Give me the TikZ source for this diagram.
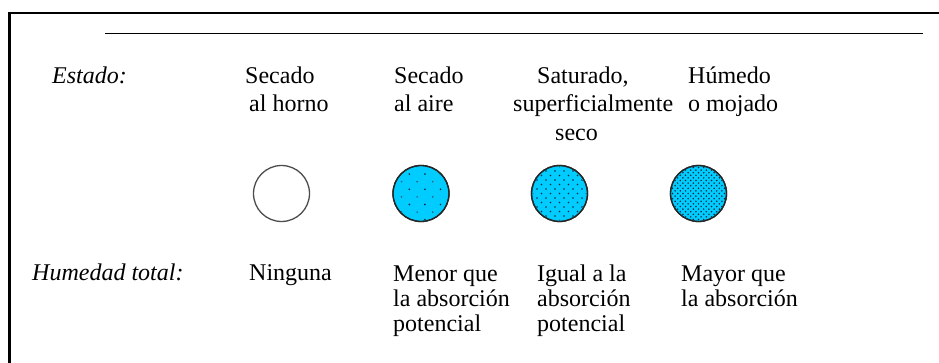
\documentclass[tikz,border=0pt]{standalone}
\usepackage{fontspec}
\setmainfont{Liberation Serif}
\usetikzlibrary{calc}
\definecolor{cyanfill}{RGB}{0,204,255}
\definecolor{dotdark}{RGB}{10,40,60}
\definecolor{dotgray}{RGB}{50,100,125}
\begin{document}
\begin{tikzpicture}[x=1pt,y=-1pt,
  lbl/.style={anchor=base west, inner sep=0pt, font=\fontsize{24}{28}\selectfont},
  lbli/.style={lbl, font=\fontsize{24}{28}\itshape},
  disc/.style={circle, inner sep=0pt, minimum size=56pt, line width=1.3pt},
  wetdisc/.style={disc, fill=cyanfill, draw=black!85},
  drydisc/.style={disc, draw=black!70}]
\useasboundingbox (0,0) rectangle (939,363);
\clip (0,0) rectangle (939,363);
% frame and rule
\coordinate (fb) at (9.5,380);
\coordinate (fc) at (9.5,13);
\coordinate (fr) at (960,13);
\draw[line width=2.7pt] (fb) -- (fc) -- (fr);
\coordinate (ra) at (105,33.5);
\coordinate (rb) at (923,33.5);
\draw[line width=1.8pt] (ra) -- (rb);
% Estado row
\node[lbli] (est) at (52,83.5) {Estado:};
\node[lbl] (c1a) at (245,83.5) {Secado};
\node[lbl] (c1b) at (249,112) {al horno};
\node[lbl] (c2a) at (394,83.5) {Secado};
\node[lbl] (c2b) at (394,112) {al aire};
\node[lbl] (c3a) at (537,83.5) {Saturado,};
\node[lbl] (c3b) at (513,112) {superficialmente};
\node[lbl] (c3c) at (555,140.5) {seco};
\node[lbl] (c4a) at (688,83.5) {Húmedo};
\node[lbl] (c4b) at (688,112) {o mojado};
% discs
\node[drydisc] (d1) at (281.5,193.5) {};
\node[wetdisc] (d2) at (421,193.5) {};
\node[wetdisc] (d3) at (559.5,193.5) {};
\node[wetdisc] (d4) at (698.5,193.5) {};
% dots disc 2
\begin{scope}
\clip (d2.center) circle (27);
\foreach \j in {-4,...,4}{
  \pgfmathsetmacro{\sh}{mod(abs(\j),2)*7.8}
  \pgfmathsetmacro{\col}{mod(abs(\j),2)}
  \foreach \i in {-3,...,3}{
    \ifdim\col pt<0.5pt
      \fill[dotdark] ($(d2.center)+(\i*15.6-11.7+\sh,\j*7.6-4.2)$) circle (0.95);
    \else
      \fill[dotgray] ($(d2.center)+(\i*15.6-11.7+\sh,\j*7.6-4.2)$) circle (0.95);
    \fi
  }
}
\end{scope}
% dots disc 3
\begin{scope}
\clip (d3.center) circle (27);
\foreach \j in {-6,...,6}{
  \pgfmathsetmacro{\sh}{mod(abs(\j),2)*4.5}
  \foreach \i in {-4,...,4}{
    \fill[dotdark] ($(d3.center)+(\i*9+\sh,\j*4.5)$) circle (0.9);
  }
}
\end{scope}
% dots disc 4
\begin{scope}
\clip (d4.center) circle (27);
\foreach \j in {-11,...,11}{
  \pgfmathsetmacro{\sh}{mod(abs(\j),2)*2.6}
  \foreach \i in {-7,...,7}{
    \fill[dotdark] ($(d4.center)+(\i*5.2+\sh,\j*2.6)$) circle (0.85);
  }
}
\end{scope}
\node[wetdisc, fill=none] (d2o) at (d2) {};
\node[wetdisc, fill=none] (d3o) at (d3) {};
\node[wetdisc, fill=none] (d4o) at (d4) {};
% Humedad row
\node[lbli] (hum) at (32,280) {Humedad total:};
\node[lbl] (h1) at (249,280) {Ninguna};
\node[lbl] (h2a) at (393,281) {Menor que};
\node[lbl] (h2b) at (393,306.5) {la absorción};
\node[lbl] (h2c) at (393,331.5) {potencial};
\node[lbl] (h3a) at (537,281) {Igual a la};
\node[lbl] (h3b) at (537,306.5) {absorción};
\node[lbl] (h3c) at (537,331.5) {potencial};
\node[lbl] (h4a) at (681,281) {Mayor que};
\node[lbl] (h4b) at (681,306.5) {la absorción};
\end{tikzpicture}
\end{document}
